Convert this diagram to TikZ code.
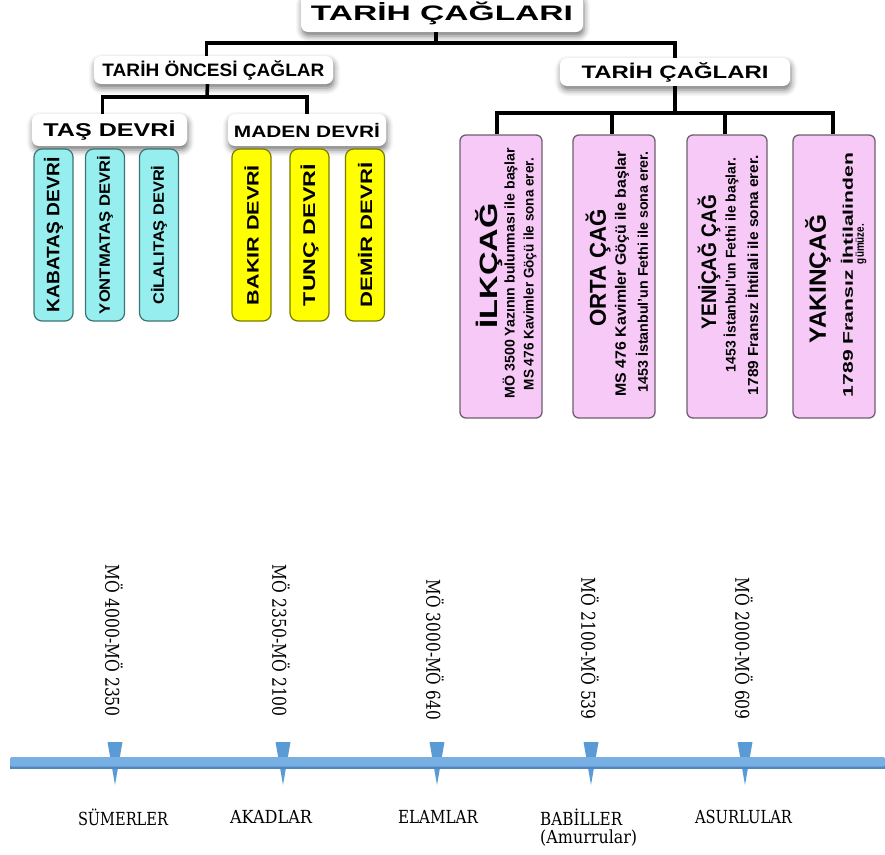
\documentclass[tikz,border=0pt]{standalone}
\usepackage{graphicx}
\usepackage{fontspec}
\setmainfont{Liberation Sans}
\newfontfamily\serifface{DejaVu Serif}
\usetikzlibrary{shadows.blur}

\definecolor{cyanf}{HTML}{96EEEE}
\definecolor{cyand}{HTML}{3A7474}
\definecolor{yelf}{HTML}{FFFF00}
\definecolor{yeld}{HTML}{7A7A00}
\definecolor{pinkf}{HTML}{F6C9F6}
\definecolor{pinkd}{HTML}{6F5F6F}
\definecolor{tlblue}{HTML}{79B0E4}
\definecolor{tldark}{HTML}{4E86C2}
\definecolor{mkblue}{HTML}{5B9BD5}

% font size shorthand and horizontal fit of a text to a given length
\newcommand{\fsz}[1]{\fontsize{#1}{#1}\selectfont}
\newcommand{\fitw}[2]{\resizebox{#1}{\height}{#2}}

\begin{document}
\begin{tikzpicture}[x=1pt,y=-1pt,
  hbox/.style={fill=white, rounded corners=7pt, inner sep=0pt,
    blur shadow={shadow xshift=1pt, shadow yshift=-4pt, shadow blur radius=6pt, shadow opacity=55},
    font=\bfseries},
  conn/.style={line width=3.6pt, black},
  cbox/.style={rotate=90, rounded corners=8pt, fill=cyanf, draw=cyand, line width=1.2pt,
    minimum width=172pt, minimum height=39pt, inner sep=0pt, font=\bfseries},
  ybox/.style={cbox, fill=yelf, draw=yeld},
  pbox/.style={rounded corners=6pt, fill=pinkf, draw=pinkd, line width=1.3pt,
    minimum width=82pt, minimum height=283pt, inner sep=0pt},
  ptxt/.style={rotate=90, inner sep=0pt, font=\bfseries},
  tlab/.style={rotate=-90, anchor=east, inner sep=0pt, font=\serifface\fsz{19}},
  nlab/.style={inner sep=0pt, font=\serifface\fsz{18}}
]
\useasboundingbox (0,0) rectangle (885,854);

% ---------- header boxes ----------
\node[hbox, minimum width=282pt, minimum height=38pt] (top) at (442,13)
  {\fsz{21}\fitw{262pt}{TARİH ÇAĞLARI}};
\node[hbox, minimum width=239pt, minimum height=28pt] (l2a) at (213.5,70)
  {\fsz{18}\fitw{222pt}{TARİH ÖNCESİ ÇAĞLAR}};
\node[hbox, minimum width=230pt, minimum height=28pt] (l2b) at (675,72)
  {\fsz{18}\fitw{187pt}{TARİH ÇAĞLARI}};
\node[hbox, minimum width=155pt, minimum height=32pt] (tas) at (109.5,130)
  {\fsz{18.5}\fitw{132pt}{TAŞ DEVRİ}};
\node[hbox, minimum width=158pt, minimum height=32pt] (maden) at (307,130)
  {\fsz{16.5}\fitw{146pt}{MADEN DEVRİ}};

% ---------- stone and metal ages ----------
\node[cbox] (kab)  at (53.5,235) {\fsz{18}\fitw{155pt}{KABATAŞ DEVRİ}};
\node[cbox] (yont) at (105,235)  {\fsz{15}\fitw{158pt}{YONTMATAŞ DEVRİ}};
\node[cbox] (cila) at (159,235)  {\fsz{15}\fitw{139pt}{CİLALITAŞ DEVRİ}};
\node[ybox] (bak)  at (251.5,235) {\fsz{16.5}\fitw{140pt}{BAKIR DEVRİ}};
\node[ybox] (tun)  at (309.5,235) {\fsz{17}\fitw{142pt}{TUNÇ DEVRİ}};
\node[ybox] (dem)  at (365,235)  {\fsz{16.5}\fitw{145pt}{DEMİR DEVRİ}};

% ---------- historical ages ----------
\node[pbox] (ilk)   at (501,276.5) {};
\node[pbox] (orta)  at (614,276.5) {};
\node[pbox, minimum width=80pt] (yeni) at (727,276.5) {};
\node[pbox] (yakin) at (834,276.5) {};

\node[ptxt] (ilkT) at (489,266) {\fsz{25}\fitw{125pt}{İLKÇAĞ}};
\node[ptxt] (ilk1) at (510,273) {\fsz{14}\fitw{250pt}{MÖ 3500 Yazının bulunması ile başlar}};
\node[ptxt] (ilk2) at (530,274) {\fsz{14}\fitw{232pt}{MS 476 Kavimler Göçü ile sona erer.}};

\node[ptxt] (ortaT) at (598,268) {\fsz{23}\fitw{117pt}{ORTA ÇAĞ}};
\node[ptxt] (orta1) at (622,274) {\fsz{15}\fitw{245pt}{MS 476 Kavimler Göçü ile başlar}};
\node[ptxt] (orta2) at (642,272) {\fsz{14}\fitw{241pt}{1453 İstanbul'un Fethi ile sona erer.}};

\node[ptxt] (yeniT) at (709,262) {\fsz{21}\fitw{135pt}{YENİÇAĞ ÇAĞ}};
\node[ptxt] (yeni1) at (731,265) {\fsz{14}\fitw{214pt}{1453 İstanbul'un Fethi ile başlar.}};
\node[ptxt] (yeni2) at (752,275) {\fsz{14.5}\fitw{240pt}{1789 Fransız İhtilali ile sona erer.}};

\node[ptxt] (yakinT) at (818,279) {\fsz{23.5}\fitw{128pt}{YAKINÇAĞ}};
\node[ptxt] (yakin1) at (847,275) {\fsz{14}\fitw{244pt}{1789 Fransız İhtilalinden}};
\node[ptxt] (yakin2) at (861,244) {\fsz{12}\fitw{40pt}{gümüze.}};

% ---------- tree connectors ----------
\coordinate (b0) at (436,43);
\coordinate (b1) at (207,97);
\coordinate (b2) at (675,113);
\draw[conn] ([xshift=-6pt]top.south) -- (b0);
\draw[conn] ([xshift=-7pt]l2a.north) |- (b0) -| (l2b.north);
\draw[conn] ([xshift=-6pt]l2a.south) -- (b1);
\draw[conn] ([xshift=-7pt]tas.north) |- (b1) -| (maden.north);
\draw[conn] (l2b.south) -- (b2);
\draw[conn] ([xshift=-4pt]ilk.north) |- (b2) -| ([xshift=-1pt]yakin.north);
\draw[conn] ([xshift=-2pt]orta.north |- b2) -- ([xshift=-2pt]orta.north);
\draw[conn] ([xshift=-2pt]yeni.north |- b2) -- ([xshift=-2pt]yeni.north);

% ---------- timeline ----------
\foreach \mx in {115,283,437,591,745}{
  \fill[mkblue] (\mx-7.5,742) -- (\mx+7.5,742) -- (\mx,785) -- cycle;
}
\fill[tldark] (10,759) rectangle (885,768.5);
\fill[tlblue, rounded corners=1.5pt] (10,757) rectangle (885,766.5);

\node[tlab] (d1) at (114,717) {\fitw{152pt}{MÖ 4000-MÖ 2350}};
\node[tlab] (d2) at (281,717) {\fitw{152pt}{MÖ 2350-MÖ 2100}};
\node[tlab] (d3) at (435,720) {\fitw{140pt}{MÖ 3000-MÖ 640}};
\node[tlab] (d4) at (590,720) {\fitw{142pt}{MÖ 2100-MÖ 539}};
\node[tlab] (d5) at (744,720) {\fitw{142pt}{MÖ 2000-MÖ 609}};

\node[nlab] (n1) at (123,817) {\fitw{90pt}{SÜMERLER}};
\node[nlab] (n2) at (271,817) {\fitw{82pt}{AKADLAR}};
\node[nlab] (n3) at (438,817) {\fitw{80pt}{ELAMLAR}};
\node[nlab, anchor=west] (n4) at (540,817) {\fitw{82pt}{BABİLLER}};
\node[nlab, anchor=west] (n4b) at (540,838) {\fitw{97pt}{(Amurrular)}};
\node[nlab] (n5) at (743.5,817) {\fitw{97pt}{ASURLULAR}};
\end{tikzpicture}
\end{document}
